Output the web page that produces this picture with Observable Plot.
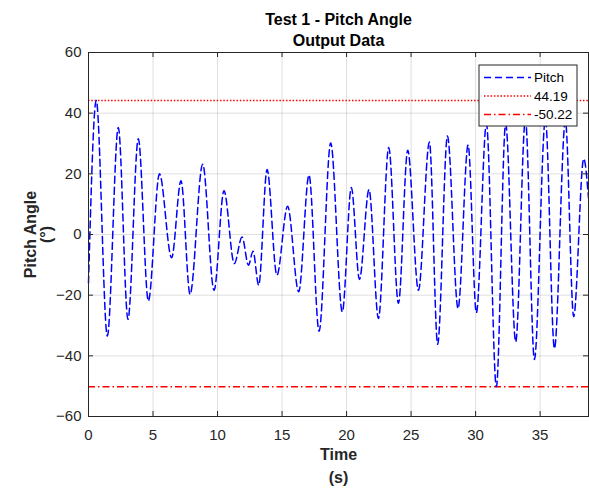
<!DOCTYPE html>
<html><head><meta charset="utf-8">
<script src="https://cdn.jsdelivr.net/npm/d3@7"></script>
<script src="https://cdn.jsdelivr.net/npm/@observablehq/plot@0.6"></script>
<style>body{margin:0;background:#fff} #chart{width:589px;height:488px}</style>
</head><body><div id="chart"></div>
<script>
// Pitch signal (turning points)
const time  = [0, 0.6, 1.46, 2.31, 3.06, 3.86, 4.64, 5.5, 6.44, 7.17, 7.87, 8.85, 9.73, 10.5, 11.3, 11.9, 12.4, 12.75, 13.19, 13.84, 14.6, 15.43, 16.29, 17.09, 17.87, 18.77, 19.67, 20.37, 21.0, 21.74, 22.47, 23.27, 24.02, 24.74, 25.57, 26.42, 27.06, 27.82, 28.64, 29.42, 30.06, 30.84, 31.61, 32.33, 33.11, 33.86, 34.56, 35.41, 36.11, 36.96, 37.6, 38.38, 38.75];
const pitch = [-16, 44.19, -33.5, 35.3, -28, 31.6, -21.9, 20, -7.7, 17.7, -19.7, 23.2, -18.4, 14.4, -9.6, -0.8, -10.1, -5.5, -16.7, 21.4, -13.4, 9.3, -18.9, 19.6, -31.9, 30.2, -25.5, 15.5, -14.8, 14.8, -27.7, 28.7, -22.7, 27.8, -18.4, 30.5, -36.2, 32.5, -24.4, 29.5, -25.8, 36.5, -50.22, 36.5, -35.4, 38, -41.2, 38, -37.6, 37.5, -27.1, 25, 12];
const maxLine = [44.19];
const minLine = [-50.22];
const xTicks = [0, 5, 10, 15, 20, 25, 30, 35];
const yTicks = [-60, -40, -20, 0, 20, 40, 60];
const xDomain = [0, 38.75];
const yDomain = [-60, 60];
const titleLines = ["Test 1 - Pitch Angle", "Output Data"];
const xLabelLines = ["Time", "(s)"];
const yLabelLines = ["Pitch Angle", "(°)"];
const legendLabels = ["Pitch", "44.19", "-50.22"];

const data = time.map((t, i) => ({t, v: pitch[i]}));
const W = 589, H = 488, mL = 88, mR = 1, mT = 52, mB = 72;
const plotH = H - mT - mB, plotW = W - mL - mR;
const font = "'Liberation Sans', Arial, sans-serif";
const axisColor = "#262626";
const styles = [
  {stroke: "#0000ff", dash: "7,4"},
  {stroke: "#ff0000", dash: "1.5,1.8"},
  {stroke: "#ff0000", dash: "7,3,1.5,3"}
];

function legendMark() {
  const g = d3.create("svg:g");
  const x0 = 479, y0 = 65, w = 98, h = 61;
  g.append("rect").attr("x", x0).attr("y", y0).attr("width", w).attr("height", h)
    .attr("fill", "#fff").attr("stroke", axisColor).attr("stroke-width", 1);
  legendLabels.forEach((lab, i) => {
    const y = y0 + 12.5 + i * 18.5;
    g.append("line").attr("x1", x0 + 5).attr("x2", x0 + 52).attr("y1", y).attr("y2", y)
      .attr("stroke", styles[i].stroke).attr("stroke-width", 1.5).attr("stroke-dasharray", styles[i].dash);
    g.append("text").attr("x", x0 + 55).attr("y", y).attr("dy", "0.35em")
      .attr("text-anchor", "start")
      .attr("font-size", 13.5).attr("fill", "#000").attr("font-family", font).text(lab);
  });
  return g.node();
}

const lbl = {text: d => d, fontWeight: "bold", fontSize: 16, textAnchor: "middle", lineAnchor: "middle"};

const chart = Plot.plot({
  width: W, height: H,
  marginLeft: mL, marginRight: mR, marginTop: mT, marginBottom: mB,
  style: {fontFamily: font, fontSize: "15px", color: axisColor, background: "#fff", overflow: "visible"},
  x: {domain: xDomain, label: null},
  y: {domain: yDomain, label: null},
  marks: [
    Plot.gridX(xTicks, {stroke: axisColor, strokeOpacity: 0.15}),
    Plot.gridY(yTicks, {stroke: axisColor, strokeOpacity: 0.15}),
    Plot.ruleY(maxLine, {stroke: styles[1].stroke, strokeWidth: 1.5, strokeDasharray: styles[1].dash}),
    Plot.ruleY(minLine, {stroke: styles[2].stroke, strokeWidth: 1.5, strokeDasharray: styles[2].dash}),
    Plot.line(data, {x: "t", y: "v", stroke: styles[0].stroke, strokeWidth: 1.5, strokeDasharray: styles[0].dash, curve: "monotone-x"}),
    Plot.frame({stroke: axisColor, strokeWidth: 1}),
    Plot.tickX(xTicks, {x: d => d, insetTop: plotH - 5, stroke: axisColor}),
    Plot.tickX(xTicks, {x: d => d, insetBottom: plotH - 5, stroke: axisColor}),
    Plot.tickY(yTicks, {y: d => d, insetRight: plotW - 5, stroke: axisColor}),
    Plot.tickY(yTicks, {y: d => d, insetLeft: plotW - 5, stroke: axisColor}),
    Plot.axisX(xTicks, {tickSize: 0, tickPadding: 13, label: null, fill: axisColor}),
    Plot.axisY(yTicks, {tickSize: 0, tickPadding: 7, label: null, fill: axisColor}),
    Plot.text([titleLines[0]], {...lbl, frameAnchor: "top", dy: -33, fill: "#000"}),
    Plot.text([titleLines[1]], {...lbl, frameAnchor: "top", dy: -12, fill: "#000"}),
    Plot.text([xLabelLines[0]], {...lbl, frameAnchor: "bottom", dy: 38, fill: axisColor}),
    Plot.text([xLabelLines[1]], {...lbl, frameAnchor: "bottom", dy: 61, fill: axisColor}),
    Plot.text([yLabelLines[0]], {...lbl, frameAnchor: "left", dx: -58, rotate: -90, fill: axisColor}),
    Plot.text([yLabelLines[1]], {...lbl, frameAnchor: "left", dx: -42, rotate: -90, fill: axisColor}),
    legendMark
  ]
});
document.getElementById("chart").appendChild(chart);
</script>
</body></html>
